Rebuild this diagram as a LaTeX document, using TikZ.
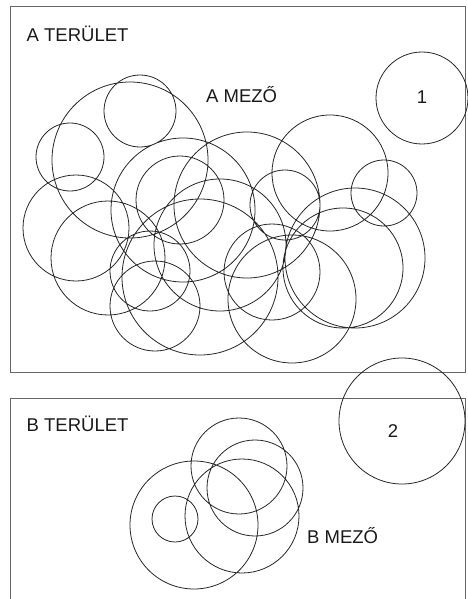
\documentclass[tikz,border=0pt]{standalone}
\usepackage{fontspec}
\setmainfont{Liberation Sans}
\usepackage{tikz}
\usetikzlibrary{positioning}

\begin{document}
\begin{tikzpicture}[x=1pt,y=-1pt,
  ring/.style={draw=black!85,line width=0.8pt},
  area/.style={draw=black!60,line width=1pt},
  lbl/.style={font=\fontsize{18.5}{20}\selectfont,inner sep=0pt,text=black!90}]
\useasboundingbox (0,0) rectangle (467,599);
%% teruletek
\draw[area](10.5,7) rectangle (465,372.5);
\draw[area](10.5,398) rectangle (465,600);
\node[lbl,anchor=base west] (terA) at (26.5,41.7) {A TERÜLET};
\node[lbl,anchor=base west] (terB) at (26.5,431.7) {B TERÜLET};
%% A mezo
\draw[ring](130,160) circle (78)
(140,111) circle (36)
(70,157) circle (34)
(76,228) circle (53)
(108,258) circle (57)
(180,200) circle (44)
(183,210) circle (72)
(247,205) circle (73)
(220,245) circle (66)
(285,205) circle (35)
(330,173) circle (58)
(384,193) circle (33)
(355,258) circle (70)
(343,268) circle (60)
(272,272) circle (48)
(292,299) circle (64)
(200,277) circle (78)
(155,306) circle (45)
(150,271) circle (40);
\node[lbl,anchor=base west] (mezoA) at (206,102.5) {A MEZŐ};
%% B mezo
\draw[ring](239,466) circle (48)
(255,488) circle (48)
(242,516) circle (57)
(194,525) circle (64)
(175,519) circle (23);
\node[lbl,anchor=base west] (mezoB) at (307,543) {B MEZŐ};
%% kulso mezok
\draw[ring](422,98) circle (46)
(402,421) circle (63);
\node[lbl,anchor=base] (egy) at (422,103) {1};
\node[lbl,anchor=base] (ketto) at (393,437) {2};
\end{tikzpicture}
\end{document}
